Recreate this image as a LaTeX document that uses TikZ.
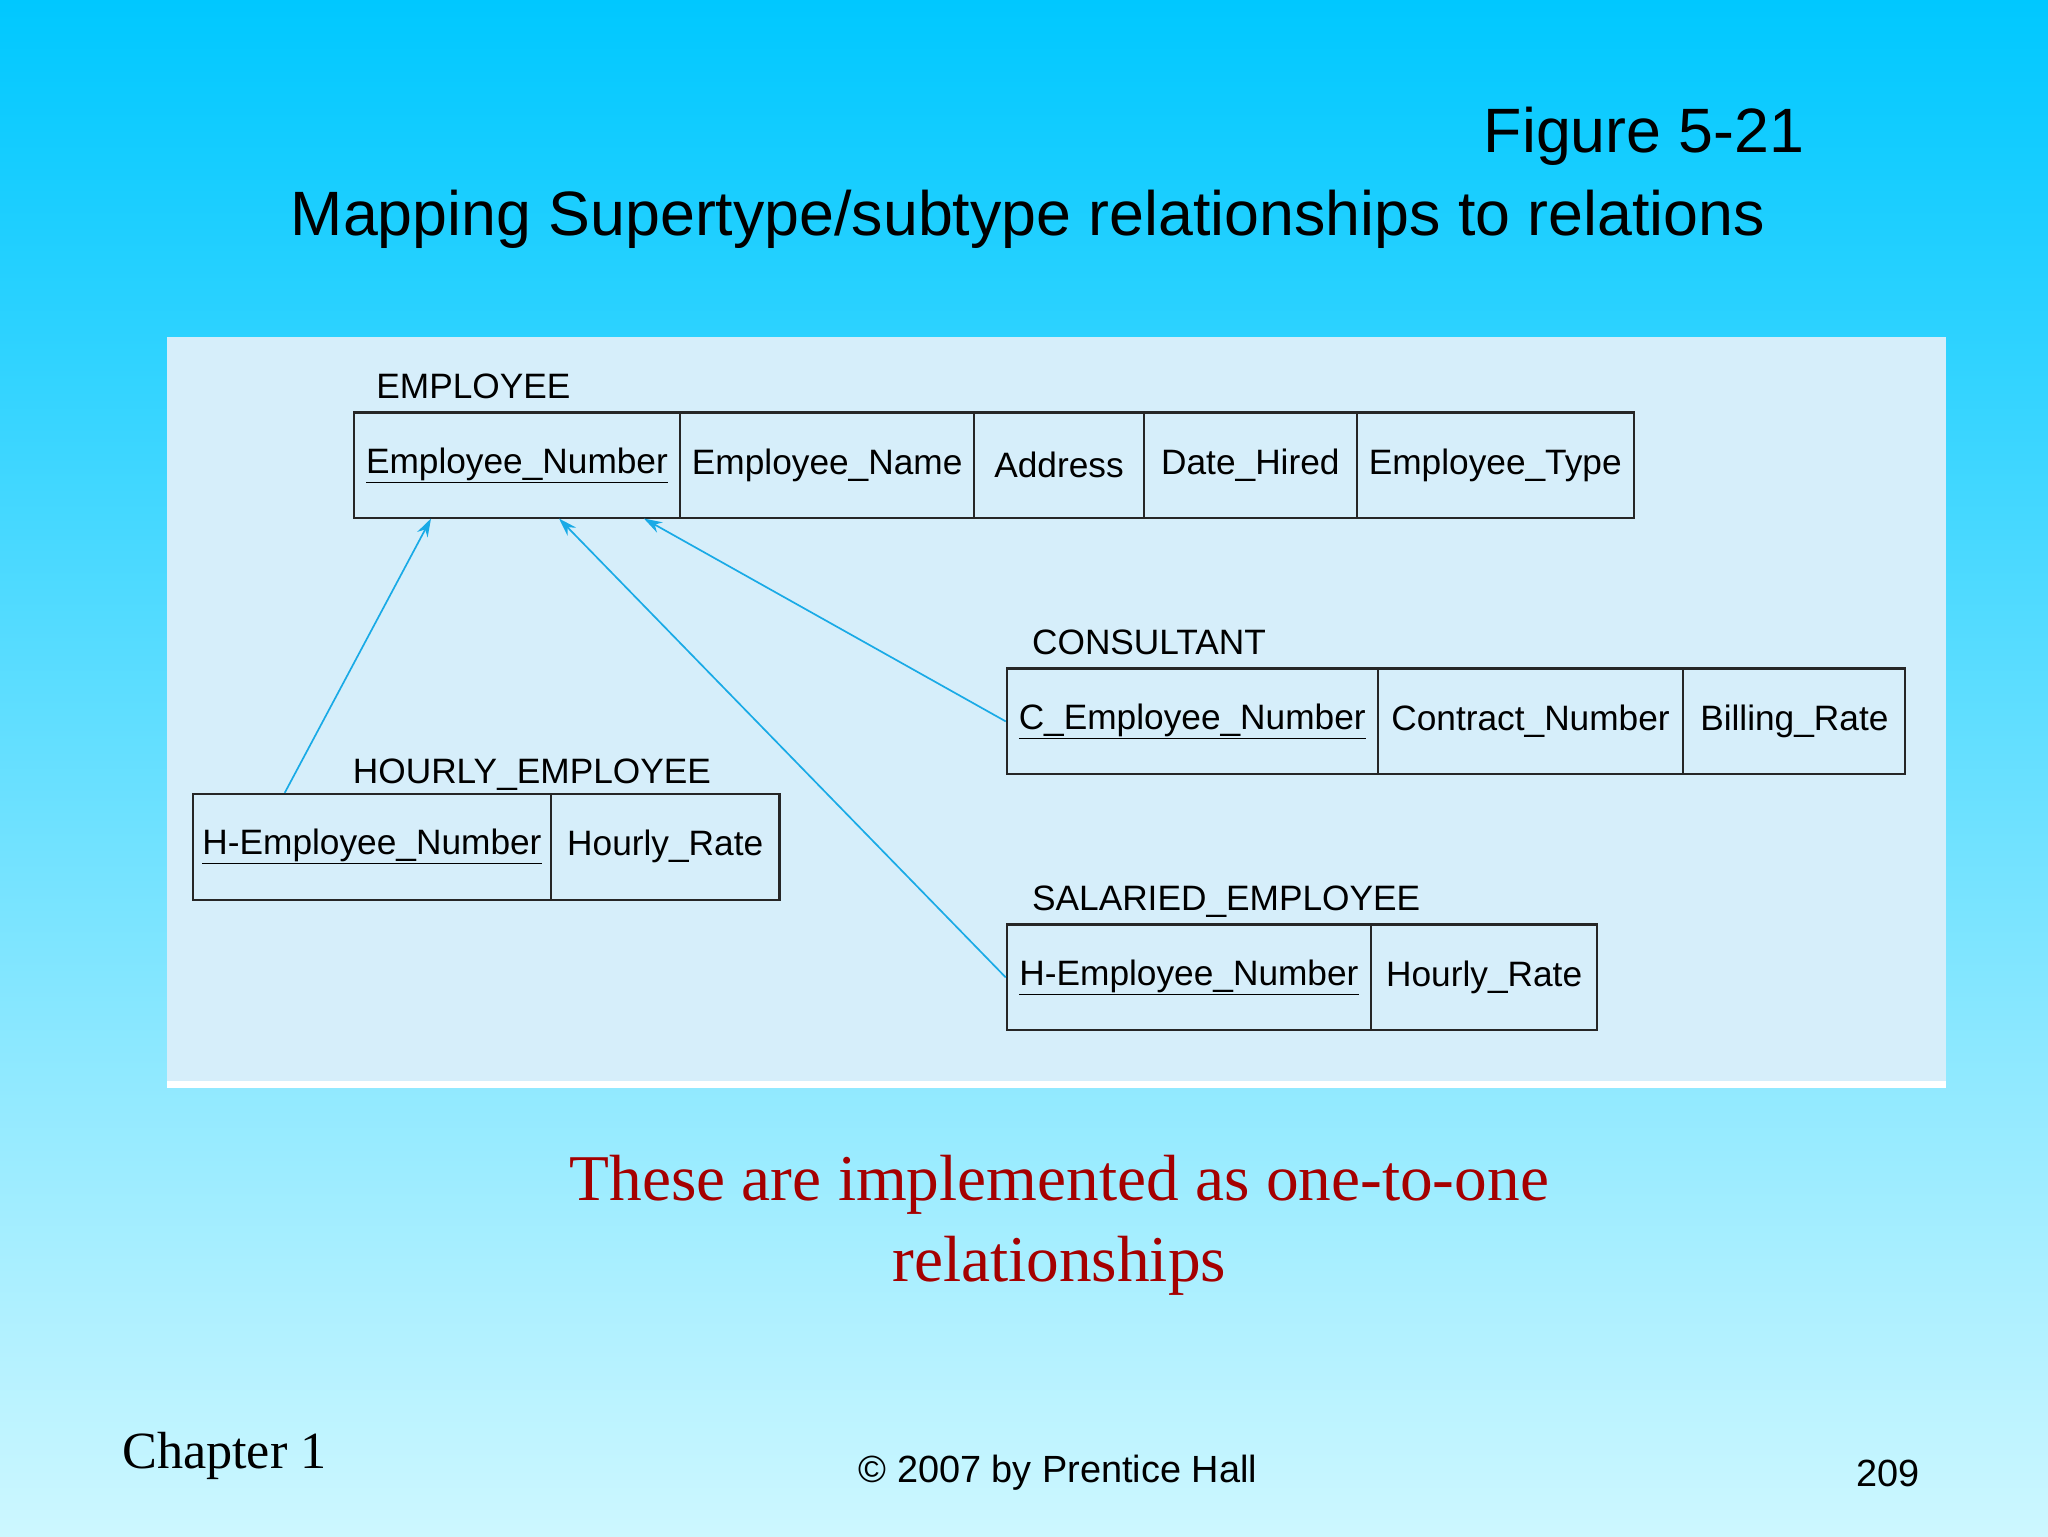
\documentclass[tikz,border=0pt]{standalone}
\usepackage{fontspec}
\usetikzlibrary{arrows.meta}
\setmainfont{Liberation Serif}
\setsansfont{Liberation Sans}
\definecolor{topc}{RGB}{0,200,255}
\definecolor{botc}{RGB}{205,247,255}
\definecolor{panel}{RGB}{214,238,250}
\definecolor{arr}{RGB}{25,170,230}
\definecolor{dred}{RGB}{165,0,0}
\begin{document}
\begin{tikzpicture}[x=1pt,y=-1pt,
  cell/.style={draw=black!85,line width=1.6pt,anchor=north west,minimum height=81pt,inner sep=0pt,font=\sffamily\fontsize{27}{30}\selectfont},
  tlabel/.style={anchor=base west,inner sep=0pt,font=\sffamily\fontsize{27}{30}\selectfont},
  link/.style={arr,line width=1.3pt,-{Stealth[length=14pt,width=9pt]}}]
\useasboundingbox (0,0) rectangle (1568,1176);
\shade[top color=topc,bottom color=botc] (0,0) rectangle (1568,1176);
\fill[white] (128,258) rectangle (1490,833);
\fill[panel] (128,258) rectangle (1490,828);
\node[font=\sffamily\fontsize{48}{56}\selectfont,anchor=base east] (fig) at (1385,117) {Figure 5-21};
\node[font=\sffamily\fontsize{48}{56}\selectfont,anchor=base] (ttl) at (787,180) {Mapping Supertype/subtype relationships to relations};
% EMPLOYEE
\node[tlabel] (le) at (288,305) {EMPLOYEE};
\node[cell,minimum width=250pt] (e1) at (270,315) {\underline{Employee\_Number}};
\node[cell,minimum width=225pt] (e2) at (520,315) {Employee\_Name};
\node[cell,minimum width=130pt] (e3) at (745,315) {Address};
\node[cell,minimum width=163pt] (e4) at (875,315) {Date\_Hired};
\node[cell,minimum width=212pt] (e5) at (1038,315) {Employee\_Type};
% CONSULTANT
\node[tlabel] (lc) at (790,501) {CONSULTANT};
\node[cell,minimum width=284pt] (c1) at (770,511) {\underline{C\_Employee\_Number}};
\node[cell,minimum width=234pt] (c2) at (1054,511) {Contract\_Number};
\node[cell,minimum width=170pt] (c3) at (1288,511) {Billing\_Rate};
% HOURLY
\node[tlabel] (lh) at (270,600) {HOURLY\_EMPLOYEE};
\node[cell,minimum width=274pt] (h1) at (147,607) {\underline{H-Employee\_Number}};
\node[cell,minimum width=175pt] (h2) at (421,607) {Hourly\_Rate};
% SALARIED
\node[tlabel] (ls) at (790,697) {SALARIED\_EMPLOYEE};
\node[cell,minimum width=279pt] (s1) at (770,707) {\underline{H-Employee\_Number}};
\node[cell,minimum width=173pt] (s2) at (1049,707) {Hourly\_Rate};
% links
\coordinate (t1) at (330,397);
\coordinate (t2) at (428,397);
\coordinate (t3) at (493,397);
\coordinate (f1) at (218,607);
\draw[link] (f1) -- (t1);
\draw[link] (s1.west) -- (t2);
\draw[link] (c1.west) -- (t3);
% bottom texts
\node[font=\fontsize{50}{62}\selectfont,text=dred,align=center] (note) at (811,938) {These are implemented as one-to-one\\relationships};
\node[font=\fontsize{40}{48}\selectfont,anchor=base west] (ch) at (90,1124) {Chapter 1};
\node[font=\sffamily\fontsize{29}{34}\selectfont,anchor=base] (cp) at (810,1135) {© 2007 by Prentice Hall};
\node[font=\sffamily\fontsize{29}{34}\selectfont,anchor=base east] (pg) at (1473,1138) {209};
\end{tikzpicture}
\end{document}
